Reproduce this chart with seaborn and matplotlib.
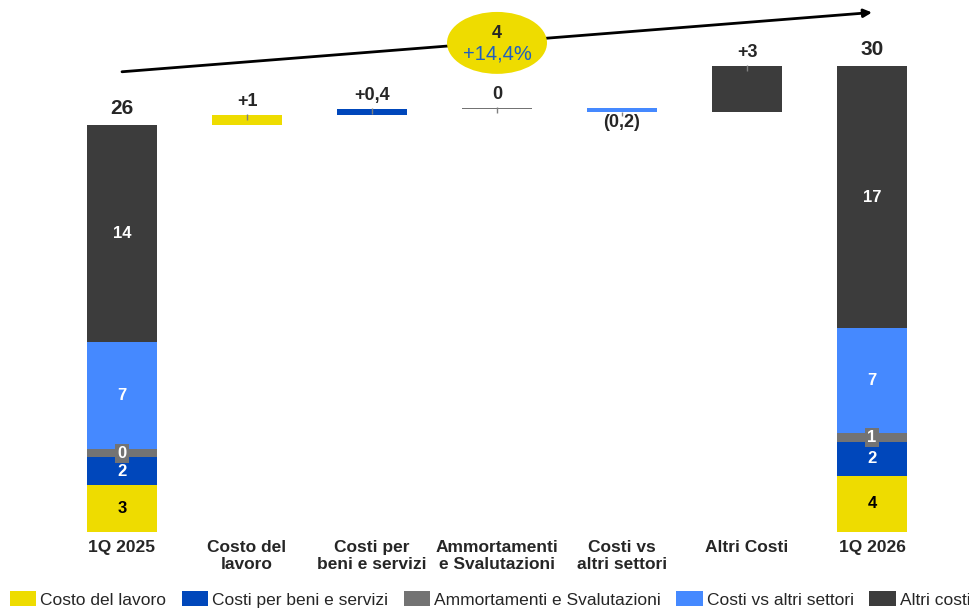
import matplotlib
matplotlib.use("Agg")
import matplotlib.pyplot as plt
from matplotlib.patches import Ellipse, Patch
import seaborn as sns

# data
categories = ["1Q 2025", "Costo del\nlavoro", "Costi per\nbeni e servizi", "Ammortamenti\ne Svalutazioni",
              "Costi vs\naltri settori", "Altri Costi", "1Q 2026"]
components = ["Costo del lavoro", "Costi per beni e servizi", "Ammortamenti e Svalutazioni",
              "Costi vs altri settori", "Altri costi"]
colors = ["#EEDC00", "#0047BB", "#737373", "#4589FF", "#3C3C3C"]
start_values = [3.0, 1.8, 0.5, 6.9, 13.9]
delta_values = [0.6, 0.4, 0.05, -0.2, 2.9]
end_values = [3.6, 2.2, 0.55, 6.7, 16.8]
start_labels = ["3", "2", "0", "7", "14"]
end_labels = ["4", "2", "1", "7", "17"]
total_labels = ["26", "30"]
delta_labels = ["+1", "+0,4", "0", "(0,2)", "+3"]
change_value = "4"
change_pct = "+14,4%"

sns.set_theme(style="white")
plt.rcParams['font.family'] = ['Liberation Sans', 'DejaVu Sans']

# heights / bottoms per component for each category
n = len(categories)
heights = {c: [0.0] * n for c in components}
bottoms = {c: [0.0] * n for c in components}
acc = 0.0
for j, c in enumerate(components):
    heights[c][0] = start_values[j]
    bottoms[c][0] = acc
    acc += start_values[j]
run = acc
delta_tops = []
delta_bottoms = []
for k, c in enumerate(components):
    d = delta_values[k]
    if d >= 0:
        bottoms[c][k + 1] = run
        run += d
    else:
        run += d
        bottoms[c][k + 1] = run
    heights[c][k + 1] = abs(d)
    delta_bottoms.append(bottoms[c][k + 1])
    delta_tops.append(bottoms[c][k + 1] + abs(d))
acc = 0.0
for j, c in enumerate(components):
    heights[c][n - 1] = end_values[j]
    bottoms[c][n - 1] = acc
    acc += end_values[j]

fig = plt.figure(figsize=(9.69, 6.09), dpi=100)
ax = fig.add_axes([0, 77 / 609, 1, 532 / 609])

for j, c in enumerate(components):
    sns.barplot(x=categories, y=heights[c], bottom=bottoms[c], color=colors[j], saturation=1,
                width=0.56, errorbar=None, linewidth=0, ax=ax)

# labels inside the stacked bars
for col, vals, labs in [(0, start_values, start_labels), (n - 1, end_values, end_labels)]:
    base = 0.0
    for j, v in enumerate(vals):
        mid = base + v / 2
        base += v
        txt_color = "black" if j == 0 else "white"
        if j == 2:
            ax.text(col, mid, labs[j], ha="center", va="center", color="white", fontsize=12,
                    fontweight="bold", zorder=6,
                    bbox=dict(boxstyle="square,pad=0.12", fc=colors[2], ec="none"))
        else:
            ax.text(col, mid, labs[j], ha="center", va="center", color=txt_color, fontsize=12,
                    fontweight="bold", zorder=6)

# totals
ax.annotate(total_labels[0], (0, sum(start_values)), xytext=(0, 5), textcoords="offset points",
            ha="center", va="bottom", fontsize=15, fontweight="bold")
ax.annotate(total_labels[1], (n - 1, sum(end_values)), xytext=(0, 5), textcoords="offset points",
            ha="center", va="bottom", fontsize=15, fontweight="bold")

# delta labels and small leader ticks
for k, lab in enumerate(delta_labels):
    x = k + 1
    if delta_values[k] >= 0:
        ax.annotate(lab, (x, delta_tops[k]), xytext=(0, 4), textcoords="offset points",
                    ha="center", va="bottom", fontsize=13, fontweight="bold")
        ax.vlines(x, delta_tops[k] - 0.3, delta_tops[k] + 0.1, color="#808080", lw=1, zorder=4)
    else:
        ax.annotate(lab, (x, delta_bottoms[k]), xytext=(0, -2), textcoords="offset points",
                    ha="center", va="top", fontsize=13, fontweight="bold")
        ax.vlines(x, delta_bottoms[k] - 0.3, delta_bottoms[k], color="#808080", lw=1, zorder=4)

# overall change arrow and bubble
ax.annotate("", xy=(n - 1, 33.3), xytext=(0, 29.5),
            arrowprops=dict(arrowstyle="-|>", lw=2, color="black", mutation_scale=12,
                            shrinkA=0, shrinkB=0), zorder=3)
ax.add_patch(Ellipse((3, 31.35), 0.8, 3.97, facecolor=colors[0], edgecolor="none", zorder=5))
ax.text(3, 31.95, change_value, ha="center", va="center", fontsize=13, fontweight="bold", zorder=6)
ax.text(3, 30.65, change_pct, ha="center", va="center", fontsize=14.5, color="#1F5FC0", zorder=6)

ax.set_xlim(-0.976, 6.776)
ax.set_ylim(0, 34.1)
ax.set_yticks([])
ax.set_xticks(range(n))
ax.set_xticklabels(categories, fontweight="bold", fontsize=12.5, linespacing=1.15)
ax.tick_params(axis="x", length=0, pad=6)
ax.set_xlabel("")
sns.despine(ax=ax, left=True, bottom=True)

handles = [Patch(facecolor=colors[j], edgecolor="none", label=c) for j, c in enumerate(components)]
fig.legend(handles=handles, loc="center left", bbox_to_anchor=(0.01, 0.016), ncol=5, frameon=False,
           fontsize=12.5, handlelength=1.5, handleheight=1.0, handletextpad=0.25, columnspacing=0.9,
           borderpad=0, borderaxespad=0)

fig.savefig("out.png", dpi=100)
